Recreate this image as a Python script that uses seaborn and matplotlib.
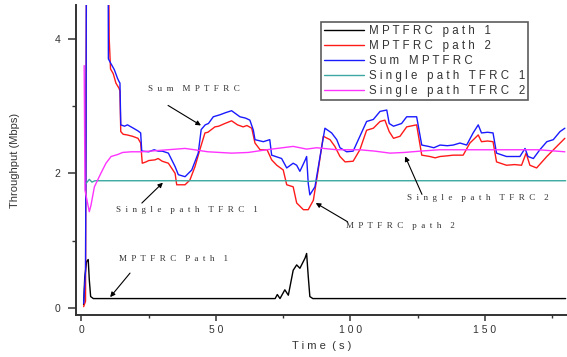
import matplotlib
matplotlib.use("Agg")
import matplotlib.pyplot as plt
import seaborn as sns
import numpy as np
import pandas as pd

# ---------------- data ----------------
t_path1 = [0.8, 1.2, 1.9, 2.5, 2.9, 3.4, 4.4, 20, 40, 60, 72.0, 72.8, 73.8, 75.6, 76.9,
           78.7, 80.0, 81.2, 83.1, 83.7, 84.3, 84.9, 86.0, 120, 150, 180]
v_path1 = [0.05, 0.45, 0.69, 0.72, 0.42, 0.17, 0.14, 0.14, 0.14, 0.14, 0.14, 0.20, 0.14, 0.27, 0.19,
           0.56, 0.64, 0.59, 0.74, 0.81, 0.47, 0.17, 0.14, 0.14, 0.14, 0.14]

t_path2 = [0.8, 1.5, 1.7, 2.0, 9.8, 10.3, 10.8, 11.8, 12.8, 14.0, 14.3, 14.6, 15.5, 17.0, 19.0, 21.0,
           22.0, 22.6, 24.0, 25.0, 27.3, 28.5, 30.0, 32.3, 34.8, 35.4, 38.5, 40.3, 42.2, 44.0, 45.9,
           47.0, 49.6, 51.0, 53.3, 55.8, 58.0, 60.1, 61.5, 63.3, 64.5, 66.4, 69.0, 70.7, 72.6,
           75.0, 76.3, 78.7, 80.0, 82.5, 84.3, 86.2, 88.0, 89.9, 92.4, 94.2, 96.1, 98.0, 101.0,
           103.5, 106.0, 108.5, 111.0, 112.8, 114.4, 116.0, 118.4, 120.9, 124.6, 126.5, 129.5,
           131.5, 133.3, 136.0, 138.2, 141.9, 144.4, 147.5, 148.7, 151.0, 153.0, 154.3, 158.0,
           161.0, 163.6, 165.3, 166.7, 169.2, 173.0, 176.7, 179.7]
v_path2 = [0.02, 0.10, 3.30, 6.50, 6.50, 4.00, 3.55, 3.48, 3.34, 3.26, 3.22, 2.62, 2.58, 2.57, 2.55, 2.52,
           2.45, 2.15, 2.17, 2.19, 2.20, 2.22, 2.18, 2.15, 2.00, 1.83, 1.83, 1.90, 2.10, 2.35, 2.60,
           2.61, 2.69, 2.70, 2.74, 2.78, 2.72, 2.69, 2.71, 2.67, 2.45, 2.35, 2.35, 2.20, 2.12,
           2.05, 1.83, 1.80, 1.56, 1.46, 1.46, 1.60, 2.05, 2.55, 2.50, 2.40, 2.25, 2.17, 2.18,
           2.35, 2.64, 2.67, 2.77, 2.79, 2.62, 2.52, 2.55, 2.69, 2.72, 2.27, 2.25,
           2.23, 2.25, 2.26, 2.27, 2.27, 2.45, 2.57, 2.47, 2.48, 2.47, 2.17, 2.12,
           2.13, 2.12, 2.30, 2.12, 2.08, 2.25, 2.40, 2.52]

t_sum = [0.8, 1.5, 1.7, 1.9, 9.8, 10.0, 10.8, 12.2, 13.4, 14.0, 14.3, 14.6, 16.0, 17.1, 19.3, 21.0,
         22.0, 22.4, 25.0, 27.0, 28.5, 30.0, 32.3, 34.8, 36.0, 38.5, 41.0, 43.4, 44.5, 46.0, 47.2,
         49.0, 51.5, 53.5, 55.8, 58.9, 61.0, 62.6, 63.9, 64.5, 67.6, 70.0, 70.7, 74.4, 76.3,
         78.7, 80.0, 81.2, 83.2, 83.7, 84.3, 84.9, 86.8, 88.7, 90.5, 93.0, 94.9, 96.1, 98.6,
         101.0, 103.5, 106.0, 108.5, 111.0, 113.5, 114.4, 116.0, 119.0, 120.9, 124.6, 126.5,
         129.0, 131.0, 133.3, 136.0, 138.2, 140.7, 143.2, 145.6, 147.5, 148.7, 151.0, 153.0,
         154.3, 158.0, 163.0, 164.9, 166.0, 168.0, 170.4, 173.0, 175.4, 177.9, 179.7]
v_sum = [0.07, 0.55, 2.64, 7.00, 7.00, 3.70, 3.64, 3.54, 3.41, 3.36, 3.34, 2.72, 2.70, 2.72, 2.67, 2.63,
         2.60, 2.33, 2.32, 2.35, 2.33, 2.33, 2.30, 2.10, 1.98, 1.95, 2.05, 2.30, 2.65, 2.72, 2.74,
         2.84, 2.87, 2.90, 2.93, 2.84, 2.82, 2.79, 2.64, 2.50, 2.47, 2.50, 2.27, 2.22, 2.08,
         2.15, 2.12, 2.03, 2.20, 2.25, 1.85, 1.68, 1.80, 2.25, 2.67, 2.60, 2.50, 2.38, 2.32,
         2.33, 2.55, 2.77, 2.80, 2.92, 2.94, 2.74, 2.70, 2.74, 2.84, 2.84, 2.42,
         2.40, 2.38, 2.42, 2.41, 2.42, 2.45, 2.42, 2.60, 2.72, 2.60, 2.61, 2.60,
         2.30, 2.25, 2.25, 2.37, 2.25, 2.22, 2.35, 2.47, 2.50, 2.62, 2.67]

t_tfrc1 = [1.7, 2.3, 2.9, 3.9, 5.0, 20, 40, 60, 80, 84, 88, 100, 120, 140, 160, 180]
v_tfrc1 = [1.85, 1.88, 1.91, 1.87, 1.89, 1.89, 1.89, 1.89, 1.89, 1.88, 1.89, 1.89, 1.89, 1.89, 1.89, 1.89]

t_tfrc2 = [1.0, 1.3, 2.3, 2.9, 3.5, 4.8, 6.0, 7.2, 9.1, 11.0, 13.5, 15.3, 18.5, 22.4, 32.0, 38.5,
           42.0, 47.0, 55.8, 62.0, 68.8, 78.7, 83.7, 87.4, 95.0, 103.5, 109.0, 114.7, 120.0,
           126.0, 133.0, 145.0, 155.0, 170.0, 179.7]
v_tfrc2 = [3.60, 1.75, 1.55, 1.43, 1.52, 1.80, 1.90, 2.00, 2.15, 2.25, 2.28, 2.31, 2.32, 2.32, 2.35, 2.37,
           2.35, 2.32, 2.30, 2.31, 2.35, 2.40, 2.36, 2.38, 2.35, 2.35, 2.33, 2.30, 2.31,
           2.33, 2.35, 2.35, 2.35, 2.35, 2.32]

series_names = ["MPTFRC path 1", "MPTFRC path 2", "Sum MPTFRC",
                "Single path TFRC 1", "Single path TFRC 2"]
series_colors = ["black", "#ff1a1a", "#1a1aff", "#3aa8a0", "#ff33ff"]

x_tick_vals = [0, 50, 100, 150]
x_tick_labels = ["0", "5 0", "1 0 0", "1 5 0"]
y_tick_vals = [0, 2, 4]
y_tick_labels = ["0", "2", "4"]

def spaced(s, gap=" ", wgap="   "):
    return wgap.join(gap.join(w) for w in s.split(" "))

# ---------------- figure ----------------
sns.set_style("ticks")
plt.rcParams["font.family"] = ["Liberation Sans", "DejaVu Sans"]

fig = plt.figure(figsize=(5.67, 3.57), dpi=100)
ax = fig.add_axes([76 / 567, 42 / 357, (567 - 76) / 567, (315 - 5) / 357])

all_t = [t_path1, t_path2, t_sum, t_tfrc1, t_tfrc2]
all_v = [v_path1, v_path2, v_sum, v_tfrc1, v_tfrc2]
for name, col, tt, vv in zip(series_names, series_colors, all_t, all_v):
    df = pd.DataFrame({"t": tt, "v": vv})
    sns.lineplot(data=df, x="t", y="v", color=col, lw=1.0, ax=ax,
                 label=spaced(name), estimator=None, sort=False)

ax.set_xlim(-2.04, 180.5)
ax.set_ylim(-0.104, 4.50)

ax.set_xticks(x_tick_vals)
ax.set_xticklabels(x_tick_labels)
ax.set_xticks([25, 75, 125, 175], minor=True)
ax.set_yticks(y_tick_vals)
ax.set_yticklabels(y_tick_labels)
ax.set_yticks([1, 3], minor=True)

for s in ["top", "right"]:
    ax.spines[s].set_visible(False)
for s in ["left", "bottom"]:
    ax.spines[s].set_linewidth(1.4)
    ax.spines[s].set_color("#333333")

ax.tick_params(axis="x", which="major", direction="out", length=4, width=1.1,
               color="#333333", labelsize=7.5, pad=3, labelcolor="#333333")
ax.tick_params(axis="x", which="minor", direction="out", length=2.5, width=1.0, color="#333333")
ax.tick_params(axis="y", which="major", direction="out", length=5.5, width=1.1,
               color="#333333", labelsize=7.5, pad=6, labelcolor="#333333")
ax.tick_params(axis="y", which="minor", direction="out", length=3, width=1.0, color="#333333")

ax.set_xlabel(spaced("Time (s)", wgap="  "), fontsize=8, color="#333333")
ax.set_ylabel("Throughput (Mbps)", fontsize=8, color="#333333")
ax.xaxis.set_label_coords(0.5, -0.085)
ax.yaxis.set_label_coords(-0.114, 0.5)

leg = ax.legend(loc="upper left", bbox_to_anchor=(320.7 / 567, 1 - 21.7 / 357),
                bbox_transform=fig.transFigure, borderaxespad=0, frameon=True,
                fancybox=False, fontsize=8.3, handlelength=3.5, handletextpad=0.45,
                labelspacing=0.27, borderpad=0.25)
leg.get_frame().set_edgecolor("#333333")
leg.get_frame().set_linewidth(1.2)
for txt in leg.get_texts():
    txt.set_color("#333333")

# ---------------- annotations ----------------
ann_font = dict(family=["Liberation Serif", "DejaVu Serif"], fontsize=6.5, color="#333333",
                ha="center", va="center")
arrow = dict(arrowstyle="-|>", color="black", lw=0.8, mutation_scale=7)

notes = [
    ("Sum MPTFRC", (41.8, 3.25), (31.3, 3.03), (45.3, 2.69)),
    ("Single path TFRC 1", (39.0, 1.46), (21.7, 1.53), (31.0, 1.89)),
    ("MPTFRC Path 1", (34.2, 0.73), (18.7, 0.55), (10.0, 0.13)),
    ("MPTFRC path 2", (118.4, 1.22), (99.8, 1.26), (86.2, 1.58)),
    ("Single path TFRC 2", (147.5, 1.63), (127.0, 1.65), (119.9, 2.29)),
]
for text, tpos, tail, head in notes:
    ax.text(tpos[0], tpos[1], spaced(text, gap="  ", wgap="    "), **ann_font)
    ax.annotate("", xy=head, xytext=tail, arrowprops=arrow)

fig.savefig("out.png", dpi=100)
